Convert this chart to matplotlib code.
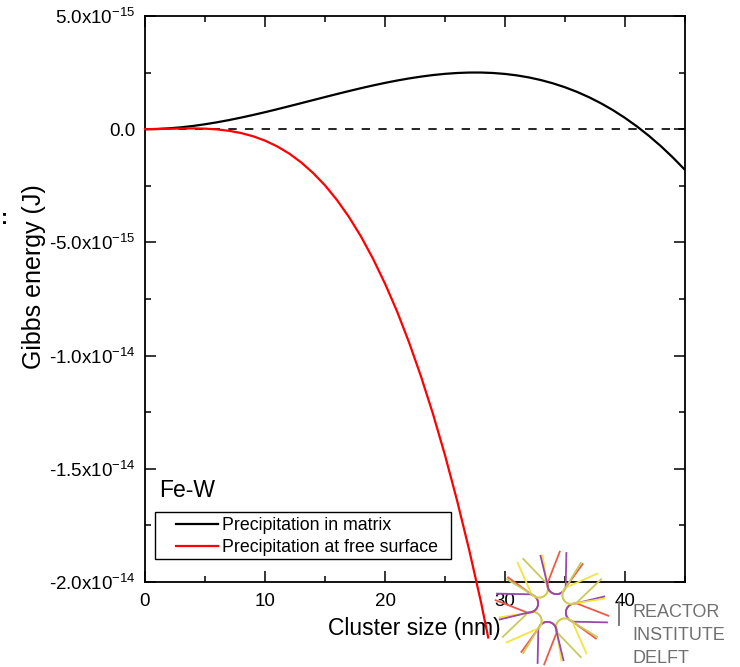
"""Gibbs energy of cluster formation, Fe-W (matrix vs free surface)."""
import numpy as np
import matplotlib
matplotlib.use('Agg')
import matplotlib.pyplot as plt
from matplotlib.ticker import MultipleLocator
from matplotlib.patches import Rectangle

plt.rcParams.update({
    'font.family': ['Liberation Sans', 'DejaVu Sans'],
    'mathtext.fontset': 'custom',
    'mathtext.rm': 'Liberation Sans',
    'mathtext.default': 'regular',
    'axes.unicode_minus': False,
})

# cluster size (nm)
size_matrix = list(range(0, 46))
# Gibbs energy, units of 1e-15 J
g_matrix = [0.0, 0.0097, 0.0377, 0.0827, 0.143, 0.218, 0.305, 0.403, 0.512, 0.628,
            0.751, 0.880, 1.013, 1.148, 1.284, 1.420, 1.554, 1.685, 1.812, 1.932,
            2.045, 2.149, 2.242, 2.323, 2.392, 2.445, 2.482, 2.502, 2.503, 2.483,
            2.441, 2.376, 2.286, 2.169, 2.025, 1.852, 1.649, 1.413, 1.144, 0.840,
            0.499, 0.121, -0.296, -0.754, -1.255, -1.798]

size_surface = list(range(0, 29)) + [28.6]
g_surface = [0.0, 0.006, 0.018, 0.030, 0.035, 0.024, -0.009, -0.071, -0.169, -0.311,
             -0.504, -0.755, -1.07, -1.46, -1.93, -2.48, -3.13, -3.88, -4.74, -5.72,
             -6.82, -8.04, -9.41, -10.92, -12.58, -14.40, -16.39, -18.55, -20.89, -22.45]

y_ticks = [5e-15, 0, -5e-15, -1e-14, -1.5e-14, -2e-14]
y_ticklabels = ['5.0x10$^{-15}$', '0.0', '-5.0x10$^{-15}$', '-1.0x10$^{-14}$',
                '-1.5x10$^{-14}$', '-2.0x10$^{-14}$']
x_ticks = [0, 10, 20, 30, 40]

fig = plt.figure(figsize=(7.4, 6.67), dpi=100)
ax = fig.add_axes([145 / 740, 1 - 582 / 667, 540 / 740, 566 / 667])

ax.axhline(0, color='black', lw=1.2, dashes=(5, 5), zorder=1)
ax.plot(size_matrix, np.array(g_matrix) * 1e-15, color='black', lw=1.6,
        label='Precipitation in matrix', zorder=3)
ax.plot(size_surface, np.array(g_surface) * 1e-15, color='#ff0000', lw=1.6,
        label='Precipitation at free surface', clip_on=False, zorder=3)

ax.set_xlim(0, 45)
ax.set_ylim(-2e-14, 5e-15)
ax.set_xticks(x_ticks)
ax.set_yticks(y_ticks)
ax.set_yticklabels(y_ticklabels)
ax.xaxis.set_minor_locator(MultipleLocator(5))
ax.yaxis.set_minor_locator(MultipleLocator(2.5e-15))
ax.tick_params(which='both', direction='in', top=True, right=True, width=1.1,
               labelsize=13.5, color='black')
ax.tick_params(which='major', length=8)
ax.tick_params(which='minor', length=4.5)
ax.tick_params(axis='x', which='major', pad=8)
ax.tick_params(axis='y', which='major', pad=7)
for sp in ax.spines.values():
    sp.set_linewidth(1.3)

ax.set_xlabel('Cluster size (nm)', fontsize=16.5)
ax.set_ylabel('Gibbs energy (J)', fontsize=18)
ax.xaxis.set_label_coords(0.498, -0.061)
ax.yaxis.set_label_coords(-0.183, 0.54)

ax.text(0.026, 0.151, 'Fe-W', transform=ax.transAxes, fontsize=16.5)

# legend: frame drawn separately so the inner padding matches
ax.add_patch(Rectangle((0.0185, 0.040), 0.5476, 0.083, transform=ax.transAxes,
                       facecolor='white', edgecolor='black', lw=1.0, zorder=4))
leg = ax.legend(loc='upper left', bbox_to_anchor=(0.0574, 0.1148), borderaxespad=0,
                borderpad=0, frameon=False, fontsize=12.8, handlelength=2.36,
                handletextpad=0.22, labelspacing=0.27)
leg.set_zorder(5)

# cropped marks at the left edge
fig.text(0.001, 1 - 218 / 667, ':', fontsize=15, fontweight='bold', va='center')

# logo overlay (pixel coordinates)
ov = fig.add_axes([0, 0, 1, 1], facecolor='none')
ov.set_xlim(0, 740)
ov.set_ylim(667, 0)
ov.axis('off')
cx, cy = 552, 608
logo_cols = ['#ee5a48', '#9a48ae', '#f4e43c', '#c8ca5c']
w, r0, L = 9, 15, 55
phi = np.linspace(-np.pi / 2, np.pi / 2, 24)
u = np.concatenate([[L], r0 + w - w * np.cos(phi), [L]])
v = np.concatenate([[-w - 4], w * np.sin(phi), [w + 4]])
for i in range(16):
    th = 2 * np.pi * i / 16
    tilt = 0.5 if i % 2 == 0 else -0.5
    uu = r0 + (u - r0) * np.cos(tilt) - v * np.sin(tilt)
    vv = (u - r0) * np.sin(tilt) + v * np.cos(tilt)
    ov.plot(cx + uu * np.cos(th) - vv * np.sin(th),
            cy + uu * np.sin(th) + vv * np.cos(th),
            color=logo_cols[i % 4], lw=1.3)
ov.plot([619, 619], [602, 625], color='#707070', lw=1.3)
for k, word in enumerate(['REACTOR', 'INSTITUTE', 'DELFT']):
    ov.text(632, 617 + 23 * k, word, color='#707070', fontsize=13, va='baseline')

fig.savefig('out.png', dpi=100)
